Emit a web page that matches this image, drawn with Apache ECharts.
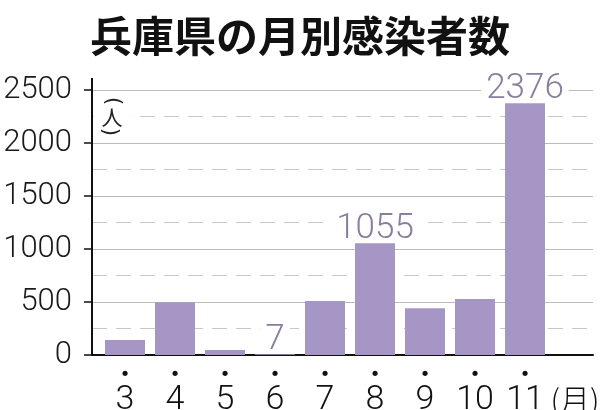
<!DOCTYPE html>
<html>
<head>
<meta charset="utf-8">
<script src="https://cdn.jsdelivr.net/npm/echarts@6/dist/echarts.min.js"></script>
<style>
html,body{margin:0;padding:0;background:#fff;}
#c{width:600px;height:410px;}
</style>
</head>
<body>
<div id="c"></div>
<script>
var titleText = '兵庫県の月別感染者数';
var months = [3, 4, 5, 6, 7, 8, 9, 10, 11];
var cases = [142, 497, 47, 7, 509, 1055, 440, 528, 2376];
var labelledMonths = [6, 8, 11];
var monthUnit = '(月)';
var personUnit = '人';
var yTicks = [0, 500, 1000, 1500, 2000, 2500];

var numFont = 'Roboto';
var barData = months.map(function (m, i) {
  return {
    value: [m, cases[i]],
    label: { show: labelledMonths.indexOf(m) >= 0 }
  };
});
var labelValues = months.concat([12]);

var unitFont = 'Noto Sans CJK JP';
var chart = echarts.init(document.getElementById('c'), null, { renderer: 'canvas' });
chart.setOption({
  backgroundColor: '#ffffff',
  animation: false,
  title: {
    text: titleText,
    left: 'center',
    top: 10,
    textStyle: {
      fontFamily: unitFont,
      fontWeight: 'bold',
      fontSize: 42,
      color: '#111'
    }
  },
  graphic: [
    {
      type: 'text', x: 112, y: 117, z: 100,
      style: {
        text: personUnit, fontFamily: unitFont, fontSize: 21, fill: '#222',
        align: 'center', verticalAlign: 'middle',
        backgroundColor: '#fff', padding: [4, 8]
      }
    },
    {
      type: 'text', x: 112, y: 101, z: 101, rotation: -Math.PI / 2,
      style: {
        text: '(', fontFamily: 'DejaVu Sans', fontSize: 21, fill: '#222',
        align: 'center', verticalAlign: 'middle'
      }
    },
    {
      type: 'text', x: 112, y: 132, z: 101, rotation: Math.PI / 2,
      style: {
        text: '(', fontFamily: 'DejaVu Sans', fontSize: 21, fill: '#222',
        align: 'center', verticalAlign: 'middle'
      }
    }
  ],
  grid: { left: 92, right: 7, top: 90, bottom: 55, outerBoundsMode: 'none', containLabel: false },
  xAxis: {
    type: 'value',
    min: 2.34,
    max: 12.36,
    splitLine: { show: false },
    axisTick: { show: false },
    axisLine: { show: true, lineStyle: { color: '#111', width: 2 } },
    axisLabel: {
      customValues: labelValues,
      margin: 12,
      formatter: function (v) {
        if (v === 12) return '{d| }\n{u|' + monthUnit + '}';
        return '{d|•}\n{n|' + v + '}';
      },
      rich: {
        d: { fontSize: 18, lineHeight: 16, color: '#111', fontFamily: 'DejaVu Sans' },
        n: { fontSize: 34, lineHeight: 34, color: '#111', fontFamily: numFont, fontWeight: 300 },
        u: { fontSize: 30, lineHeight: 34, color: '#111', fontFamily: unitFont, fontWeight: 300 }
      }
    }
  },
  yAxis: {
    type: 'value',
    min: yTicks[0],
    max: yTicks[yTicks.length - 1],
    interval: 500,
    axisLine: {
      show: true,
      symbol: ['none', 'rect'],
      symbolSize: [2, 24],
      lineStyle: { color: '#111', width: 2 }
    },
    axisTick: { show: true, length: 8, lineStyle: { color: '#111', width: 1.5 } },
    axisLabel: {
      margin: 20,
      fontFamily: numFont,
      fontWeight: 300,
      fontSize: 31,
      color: '#1a1a1a',
      formatter: function (v) { return String(v); }
    },
    splitLine: { show: true, lineStyle: { color: '#bbbbbb', width: 1 } },
    minorTick: { show: false, splitNumber: 2 },
    minorSplitLine: { show: true, lineStyle: { color: '#c8c8c8', width: 1, type: [15, 9] } }
  },
  series: [{
    type: 'bar',
    barWidth: 40,
    data: barData,
    itemStyle: { color: '#a696c5' },
    label: {
      show: false,
      position: 'top',
      distance: 1,
      fontFamily: numFont,
      fontWeight: 300,
      fontSize: 35,
      lineHeight: 26,
      color: '#8a7e9e',
      backgroundColor: '#fff',
      padding: [0, 5, 0, 5],
      formatter: function (p) { return p.value[1]; }
    }
  }]
});
</script>
</body>
</html>
